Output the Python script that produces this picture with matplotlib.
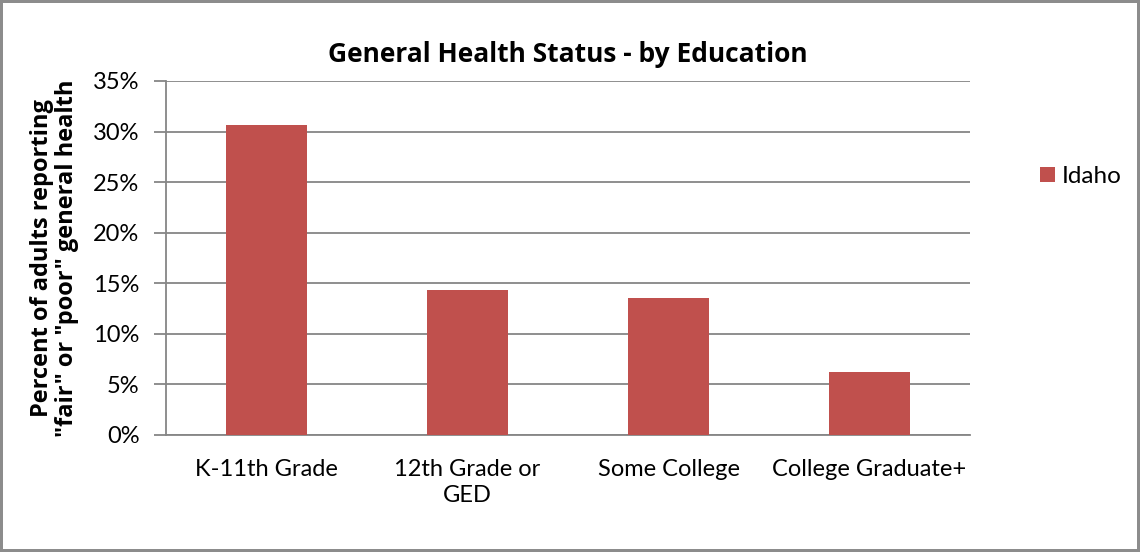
import matplotlib.pyplot as plt
import numpy as np
from matplotlib.ticker import FuncFormatter, MultipleLocator

# data
categories = ['K-11th Grade', '12th Grade or\nGED', 'Some College', 'College Graduate+']
idaho = [30.6, 14.3, 13.5, 6.2]

plt.rcParams['font.family'] = ['Lato', 'DejaVu Sans']

fig = plt.figure(figsize=(11.4, 5.52), dpi=100)
fig.patch.set_edgecolor('#8c8c8c')
fig.patch.set_linewidth(3)
ax = fig.add_axes([0.1456, 0.212, 0.7053, 0.6413])

x = np.arange(len(categories))
ax.bar(x, idaho, width=0.4, color='#C0504D', label='Idaho', zorder=3)

ax.set_xlim(-0.5, len(categories) - 0.5)
ax.set_ylim(0, 35)
ax.yaxis.set_major_locator(MultipleLocator(5))
ax.yaxis.set_major_formatter(FuncFormatter(lambda v, p: f'{v:.0f}%'))
ax.grid(axis='y', color='#868686', linewidth=1.3, zorder=0)
ax.set_xticks(x)
ax.set_xticklabels(categories, fontsize=17, linespacing=1.3)
ax.tick_params(axis='x', length=0, pad=17)
ax.tick_params(axis='y', length=9, color='#868686', width=1.3, labelsize=17, pad=10)
for s in ['top', 'right']:
    ax.spines[s].set_visible(False)
for s in ['left', 'bottom']:
    ax.spines[s].set_color('#868686')
    ax.spines[s].set_linewidth(1.3)

# bold labels: Open Sans bold is closer to the heavy Calibri bold
ax.set_ylabel('Percent of adults reporting\n"fair" or "poor" general health',
              fontsize=17, fontweight='bold', labelpad=10, linespacing=1.05,
              family=['Open Sans', 'DejaVu Sans'])
ax.set_title('General Health Status - by Education', fontsize=19,
             fontweight='bold', pad=14, family=['Open Sans', 'DejaVu Sans'])

ax.legend(loc='center left', bbox_to_anchor=(1.06, 0.73), frameon=False,
          fontsize=17.5, handlelength=0.6, handleheight=0.6, handletextpad=0.3)

plt.savefig('out.png', dpi=100)
